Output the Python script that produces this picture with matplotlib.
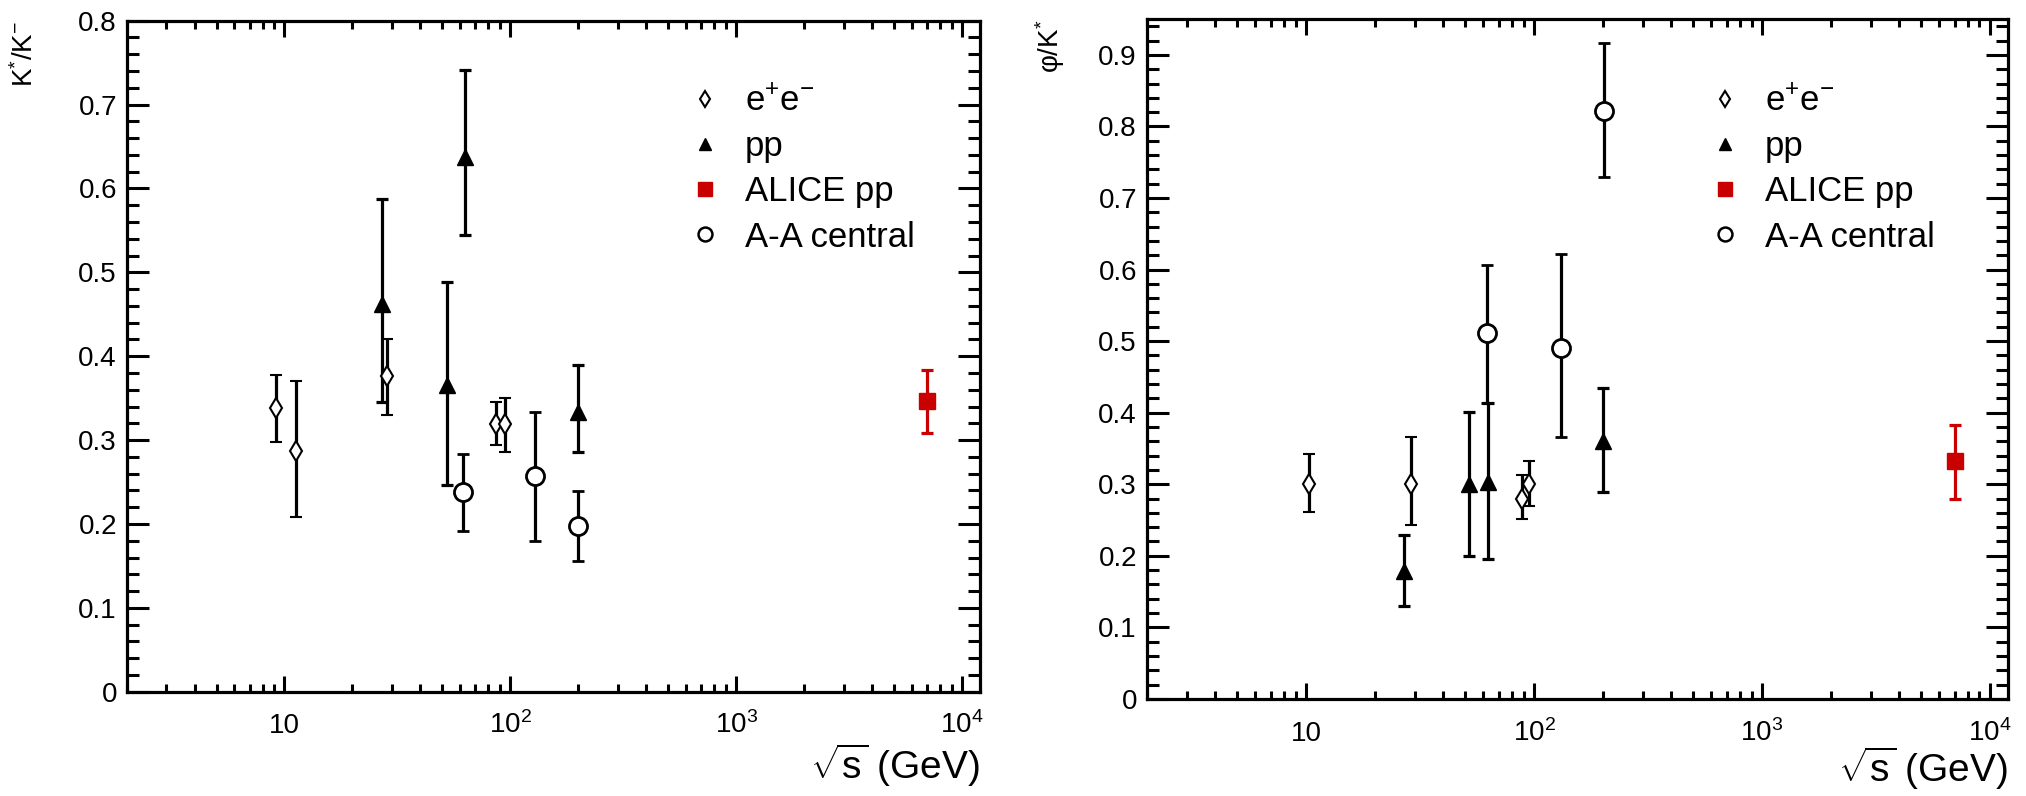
import matplotlib
matplotlib.use('Agg')
import matplotlib.pyplot as plt
from matplotlib.lines import Line2D
from matplotlib.ticker import FixedLocator, LogLocator, NullFormatter, MultipleLocator, FuncFormatter

plt.rcParams['font.family'] = ['Liberation Sans', 'DejaVu Sans']
plt.rcParams['mathtext.fontset'] = 'custom'
plt.rcParams['mathtext.rm'] = 'Liberation Sans'
plt.rcParams['mathtext.it'] = 'Liberation Sans:italic'
plt.rcParams['mathtext.bf'] = 'Liberation Sans:bold'

# ---------------- Left panel: K*/K- ----------------
ee_x_L = [9.2, 11.3, 28.5, 86.7, 94.4]
ee_y_L = [0.338, 0.287, 0.377, 0.319, 0.319]
ee_lo_L = [0.298, 0.208, 0.330, 0.294, 0.286]
ee_hi_L = [0.378, 0.370, 0.421, 0.346, 0.350]

pp_x_L = [27.1, 52.4, 62.7, 200]
pp_y_L = [0.462, 0.366, 0.638, 0.334]
pp_lo_L = [0.346, 0.247, 0.544, 0.286]
pp_hi_L = [0.587, 0.489, 0.741, 0.389]

alice_x_L = [7000]
alice_y_L = [0.347]
alice_lo_L = [0.309]
alice_hi_L = [0.384]

aa_x_L = [62, 128, 200]
aa_y_L = [0.238, 0.257, 0.197]
aa_lo_L = [0.192, 0.180, 0.156]
aa_hi_L = [0.283, 0.334, 0.239]

# ---------------- Right panel: phi/K* ----------------
ee_x_R = [10.3, 29, 88.7, 95.5]
ee_y_R = [0.300, 0.300, 0.280, 0.300]
ee_lo_R = [0.261, 0.243, 0.252, 0.270]
ee_hi_R = [0.342, 0.366, 0.313, 0.332]

pp_x_R = [27, 52, 63, 200]
pp_y_R = [0.179, 0.300, 0.303, 0.360]
pp_lo_R = [0.130, 0.200, 0.195, 0.289]
pp_hi_R = [0.229, 0.401, 0.413, 0.434]

alice_x_R = [7000]
alice_y_R = [0.332]
alice_lo_R = [0.279]
alice_hi_R = [0.383]

aa_x_R = [62.5, 132, 203]
aa_y_R = [0.511, 0.491, 0.822]
aa_lo_R = [0.413, 0.366, 0.729]
aa_hi_R = [0.607, 0.622, 0.916]

x_ticks = [10, 100, 1000, 10000]
x_tick_labels = ['10', r'$\mathregular{10^{2}}$', r'$\mathregular{10^{3}}$', r'$\mathregular{10^{4}}$']
legend_labels = [r'$\mathregular{e^{+}e^{-}}$', 'pp', 'ALICE pp', 'A-A central']

RED = '#c80000'
ELW = 2.3
CAP = 4
CAPT = 2.3


def yerr(y, lo, hi):
    return [[a - b for a, b in zip(y, lo)], [b - a for a, b in zip(y, hi)]]


def draw(ax, ee, pp, al, aa, ymax, ylabel, ylab_x, leg_anchor, xlab_y):
    ax.errorbar(ee[0], ee[1], yerr=yerr(ee[1], ee[2], ee[3]), fmt='d', ms=10,
                mfc='white', mec='black', mew=1.5, ecolor='black', elinewidth=ELW,
                capsize=CAP, capthick=CAPT, zorder=3)
    ax.errorbar(pp[0], pp[1], yerr=yerr(pp[1], pp[2], pp[3]), fmt='^', ms=11,
                color='black', ecolor='black', elinewidth=ELW,
                capsize=CAP, capthick=CAPT, zorder=3)
    ax.errorbar(aa[0], aa[1], yerr=yerr(aa[1], aa[2], aa[3]), fmt='o', ms=13,
                mfc='white', mec='black', mew=2.0, ecolor='black', elinewidth=ELW,
                capsize=CAP, capthick=CAPT, zorder=4)
    ax.errorbar(al[0], al[1], yerr=yerr(al[1], al[2], al[3]), fmt='s', ms=11,
                color=RED, ecolor=RED, elinewidth=ELW,
                capsize=CAP, capthick=CAPT, zorder=4)

    ax.set_xscale('log')
    ax.set_xlim(2, 1.2e4)
    ax.set_ylim(0, ymax)
    ax.xaxis.set_major_locator(FixedLocator(x_ticks))
    ax.set_xticklabels(x_tick_labels)
    ax.xaxis.set_minor_locator(LogLocator(base=10, subs=range(2, 10), numticks=30))
    ax.xaxis.set_minor_formatter(NullFormatter())
    ax.yaxis.set_major_locator(MultipleLocator(0.1))
    ax.yaxis.set_minor_locator(MultipleLocator(0.02))
    ax.yaxis.set_major_formatter(FuncFormatter(lambda v, p: '0' if abs(v) < 1e-9 else f'{v:.1f}'))

    ax.tick_params(axis='both', which='both', direction='in', top=True, right=True,
                   width=2.2, labelsize=20, color='black')
    ax.tick_params(axis='x', which='major', length=11.5, pad=30)
    ax.tick_params(axis='x', which='minor', length=5.5)
    ax.tick_params(axis='y', which='major', length=16, pad=7)
    ax.tick_params(axis='y', which='minor', length=8.5)
    for t in ax.xaxis.get_major_ticks():
        t.label1.set_verticalalignment('baseline')
    for s in ax.spines.values():
        s.set_linewidth(2.3)

    ax.set_ylabel(ylabel, fontsize=20, loc='top')
    ax.yaxis.set_label_coords(ylab_x, 1.0)
    ax.set_xlabel(r'$\mathregular{\sqrt{s}}$ (GeV)', fontsize=28, loc='right')
    ax.xaxis.set_label_coords(1.0, xlab_y)

    handles = [
        Line2D([], [], ls='none', marker='d', ms=8, mfc='white', mec='black', mew=1.5),
        Line2D([], [], ls='none', marker='^', ms=9, color='black'),
        Line2D([], [], ls='none', marker='s', ms=10, color=RED),
        Line2D([], [], ls='none', marker='o', ms=10, mfc='white', mec='black', mew=1.8),
    ]
    ax.legend(handles, legend_labels, loc='upper left', bbox_to_anchor=leg_anchor,
              frameon=False, fontsize=25, handlelength=1.0, handletextpad=0.65,
              labelspacing=0.35, borderpad=0, borderaxespad=0)


fig = plt.figure(figsize=(20.26, 7.96), dpi=100)
axL = fig.add_axes([0.0625, 0.131, 0.4212, 0.843])
axR = fig.add_axes([0.566, 0.122, 0.4251, 0.854])

draw(axL, (ee_x_L, ee_y_L, ee_lo_L, ee_hi_L), (pp_x_L, pp_y_L, pp_lo_L, pp_hi_L),
     (alice_x_L, alice_y_L, alice_lo_L, alice_hi_L), (aa_x_L, aa_y_L, aa_lo_L, aa_hi_L),
     0.8, r'$\mathregular{K^{*}/K^{-}}$', -0.103, (0.657, 0.904), -0.075)
draw(axR, (ee_x_R, ee_y_R, ee_lo_R, ee_hi_R), (pp_x_R, pp_y_R, pp_lo_R, pp_hi_R),
     (alice_x_R, alice_y_R, alice_lo_R, alice_hi_R), (aa_x_R, aa_y_R, aa_lo_R, aa_hi_R),
     0.95, r'φ/$\mathregular{K^{*}}$', -0.093, (0.651, 0.903), -0.068)

fig.savefig('out.png', dpi=100)
